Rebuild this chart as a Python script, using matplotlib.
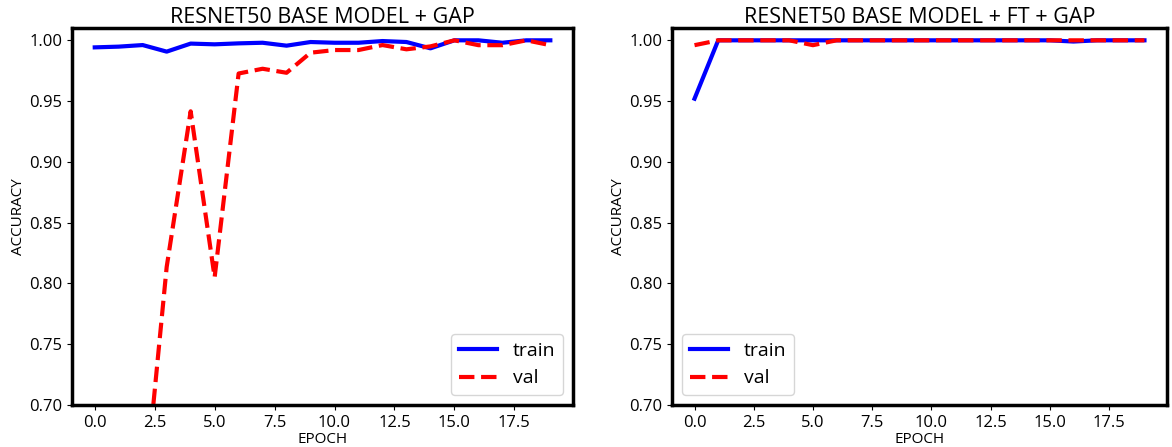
import numpy as np
import matplotlib
matplotlib.use('Agg')
from matplotlib import pyplot as plt

plt.rcParams['font.family'] = ['Open Sans', 'DejaVu Sans']

epochs = np.arange(20)

# base model + GAP
base_train = [0.9942, 0.9948, 0.9961, 0.9907, 0.9973, 0.9967, 0.9975, 0.9980, 0.9956, 0.9986,
              0.9980, 0.9980, 0.9994, 0.9986, 0.9934, 1.0000, 1.0000, 0.9980, 1.0000, 1.0000]
base_val = [0.50, 0.55, 0.61, 0.8135, 0.9416, 0.805, 0.9727, 0.9766, 0.9733, 0.9898,
            0.9920, 0.9920, 0.9961, 0.9926, 0.9950, 1.0000, 0.9960, 0.9960, 1.0000, 0.9960]

# base model + fine tuning + GAP
ft_train = [0.952, 1.0, 1.0, 1.0, 1.0, 1.0, 1.0, 1.0, 1.0, 1.0,
            1.0, 1.0, 1.0, 1.0, 1.0, 1.0, 0.999, 1.0, 1.0, 1.0]
ft_val = [0.996, 1.0, 1.0, 1.0, 1.0, 0.996, 1.0, 1.0, 1.0, 1.0,
          1.0, 1.0, 1.0, 1.0, 1.0, 1.0, 1.0, 1.0, 1.0, 1.0]

titles = ['RESNET50 BASE MODEL + GAP', 'RESNET50 BASE MODEL + FT + GAP']
legend_loc = ['lower right', 'lower left']

fig = plt.figure(figsize=(11.72, 4.47), dpi=100)
ax1 = fig.add_axes([0.0614, 0.094, 0.4276, 0.843])
ax2 = fig.add_axes([0.5734, 0.094, 0.4223, 0.843])

for ax, tr, va, title, loc in zip([ax1, ax2], [base_train, ft_train], [base_val, ft_val],
                                  titles, legend_loc):
    ax.plot(epochs, tr, color='blue', lw=3, label='train')
    ax.plot(epochs, va, color='red', lw=3, ls='--', label='val')
    ax.set_ylim(0.70, 1.01)
    ax.set_xlim(-0.95, 19.95)
    ax.set_title(title, fontsize=15.5, pad=2)
    ax.set_xlabel('EPOCH', fontsize=11, labelpad=1)
    ax.set_ylabel('ACCURACY', fontsize=11, labelpad=2)
    ax.tick_params(labelsize=12)
    ax.set_xticks(np.arange(0, 20, 2.5))
    for s in ax.spines.values():
        s.set_linewidth(2.5)
    ax.legend(loc=loc, fontsize=14)

fig.savefig('out.png', dpi=100)
